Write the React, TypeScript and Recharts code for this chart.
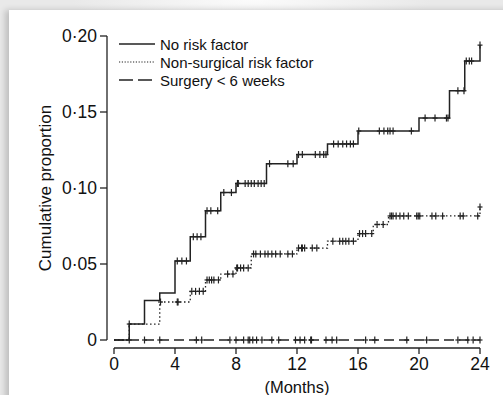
import React from "react";
import { ComposedChart, Legend, Line, Scatter, XAxis, YAxis } from "recharts";

const INK = "#222";
const FONT = "'Liberation Sans', Arial, sans-serif";

const monthTicks = [0, 4, 8, 12, 16, 20, 24];
const proportionTicks = [0, 0.05, 0.1, 0.15, 0.2];

// [month, cumulative proportion] at each event step
const noRiskSteps: [number, number][] = [
  [0, 0], [1, 0.0105], [2, 0.026], [3, 0.031], [4, 0.052], [5, 0.068],
  [6, 0.085], [7, 0.097], [8, 0.103], [10, 0.116], [12, 0.122], [14, 0.129],
  [16, 0.1375], [20, 0.146], [22, 0.164], [23, 0.1835], [24, 0.194],
];
const nonSurgicalSteps: [number, number][] = [
  [0, 0], [1, 0.0105], [3, 0.025], [5, 0.032], [6, 0.0395], [7, 0.0434],
  [8, 0.0474], [9, 0.0566], [12, 0.0605], [14, 0.065], [16, 0.07],
  [17, 0.076], [18, 0.0816], [24, 0.0875],
];
const surgerySteps: [number, number][] = [
  [0, 0], [24, 0],
];

// censoring times (months)
const noRiskCensored = [
  1, 4.15, 4.45, 4.75, 5.2, 5.45, 5.7, 6.1, 6.35, 6.8, 7.2, 7.7,
  8.1, 8.15, 8.6, 8.8, 9.0, 9.2, 9.45, 9.65, 9.85, 10.2, 11.4, 11.75,
  12.1, 12.35, 13.2, 13.5, 13.75, 13.9, 14.4, 14.7, 15.0, 15.25, 15.5, 15.7,
  16.05, 17.4, 17.7, 17.95, 18.1, 18.3, 19.5, 20.4, 21.05, 21.8, 21.9,
  22.55, 22.95, 23.1, 23.3, 23.45, 24,
];
const nonSurgicalCensored = [
  3.05, 4.15, 4.2, 5.1, 5.35, 5.6, 5.85, 6.1, 6.25, 6.4, 6.55, 6.85,
  7.45, 7.8, 8.05, 8.1, 8.3, 8.5, 8.8, 9.15, 9.3, 9.6, 9.9, 10.1, 10.35,
  10.6, 10.9, 11.4, 11.7, 12.1, 12.3, 12.35, 12.5, 13.0, 13.3, 14.35, 14.8,
  15.0, 15.2, 15.4, 15.7, 16.1, 16.3, 16.5, 16.9, 17.25, 17.65, 18.1, 18.2,
  18.3, 18.5, 18.75, 19.0, 19.3, 19.85, 19.95, 20.05, 20.85, 21.1, 21.55,
  22.7, 22.9, 23.85, 24,
];
const surgeryCensored = [
  1, 2, 3, 5.4, 5.75, 7.6, 8.0, 8.5, 8.8, 8.9, 9.1, 9.35, 9.7, 10.35, 10.8,
  11.9, 12.2, 12.5, 12.9, 12.95, 13.9, 14.3, 14.6, 16.5, 17.1, 19.2, 20.5,
  22.55, 23.2, 23.55, 24,
];

const toRows = (steps: [number, number][]) =>
  steps.map(([month, value]) => ({ month, value }));

// place each censored case on its group's step curve
const censorRows = (steps: [number, number][], times: number[]) =>
  times.map((month) => {
    let value = 0;
    for (const [m, v] of steps) if (m <= month) value = v;
    return { month, value };
  });

const legendItems = [
  { name: "No risk factor", dash: undefined, width: 1.4 },
  { name: "Non-surgical risk factor", dash: "1.2 1.6", width: 1.1 },
  { name: "Surgery < 6 weeks", dash: "14 5", width: 1.3 },
];

const CensorMark = (props: any) => {
  const { cx, cy } = props;
  if (cx == null || cy == null) return <g />;
  return (
    <g stroke={INK} strokeWidth={1.2}>
      <line x1={cx} x2={cx} y1={cy - 3.5} y2={cy + 3.5} />
      <line x1={cx - 2.5} x2={cx + 2.5} y1={cy} y2={cy} />
    </g>
  );
};

const renderLegend = () => (
  <div style={{ fontFamily: FONT, fontSize: 15, color: "#111" }}>
    {legendItems.map((item) => (
      <div key={item.name} style={{ display: "flex", alignItems: "center", height: 18 }}>
        <svg width={44} height={18}>
          <line
            x1={3}
            x2={39}
            y1={9}
            y2={9}
            stroke={INK}
            strokeWidth={item.width}
            strokeDasharray={item.dash}
          />
        </svg>
        <span>{item.name}</span>
      </div>
    ))}
  </div>
);

const formatProportion = (v: number) =>
  v === 0 ? "0" : v.toFixed(2).replace(".", "·");

export default function App() {
  return (
    <div
      style={{
        position: "absolute",
        left: 0,
        top: 0,
        width: 503,
        height: 395,
        overflow: "hidden",
        background:
          "radial-gradient(ellipse 180px 30px at 50% 0%, #fbfbfb 0%, #e9e9e9 100%)",
      }}
    >
      <div
        style={{
          position: "absolute",
          left: 9,
          top: 10,
          width: 600,
          height: 500,
          background: "#fff",
          boxShadow: "-4px 0 6px rgba(0,0,0,0.18)",
        }}
      />
      <div style={{ position: "absolute", left: 0, top: 0 }}>
        <ComposedChart
          width={503}
          height={395}
          margin={{ top: 36, right: 23, bottom: 3, left: 34 }}
        >
          <XAxis
            type="number"
            dataKey="month"
            domain={[0, 24]}
            ticks={monthTicks}
            height={52}
            tickSize={6}
            tickMargin={12}
            tick={{ fontSize: 17.5, fill: "#111", fontFamily: FONT }}
            tickLine={{ stroke: INK, strokeWidth: 1.3, transform: "translate(0,8)" }}
            axisLine={{ stroke: INK, strokeWidth: 1.3, transform: "translate(0,8)" }}
            label={{
              content: () => (
                <text
                  x={297}
                  y={387}
                  textAnchor="middle"
                  dominantBaseline="central"
                  fontSize={16.5}
                  fontFamily={FONT}
                  fill="#111"
                >
                  (Months)
                </text>
              ),
            }}
          />
          <YAxis
            type="number"
            domain={[0, 0.2]}
            ticks={proportionTicks}
            tickFormatter={formatProportion}
            width={80}
            tickSize={7}
            tickMargin={10}
            tick={{ fontSize: 17.5, fill: "#111", fontFamily: FONT }}
            tickLine={{ stroke: INK, strokeWidth: 1.3, transform: "translate(-7,0)" }}
            axisLine={{ stroke: INK, strokeWidth: 1.3, transform: "translate(-7,0)" }}
            label={{
              content: () => (
                <text
                  x={45}
                  y={188}
                  transform="rotate(-90 45 188)"
                  textAnchor="middle"
                  dominantBaseline="central"
                  fontSize={17}
                  fontFamily={FONT}
                  fill="#111"
                >
                  Cumulative proportion
                </text>
              ),
            }}
          />
          <Legend
            layout="vertical"
            align="center"
            verticalAlign="middle"
            content={renderLegend}
            wrapperStyle={{ left: 116, top: 35, width: 280 }}
          />
          <Line
            data={toRows(surgerySteps)}
            dataKey="value"
            name="Surgery < 6 weeks"
            type="stepAfter"
            stroke={INK}
            strokeWidth={1.3}
            strokeDasharray="10 5"
            dot={false}
            isAnimationActive={false}
          />
          <Line
            data={toRows(nonSurgicalSteps)}
            dataKey="value"
            name="Non-surgical risk factor"
            type="stepAfter"
            stroke={INK}
            strokeWidth={1.3}
            strokeDasharray="1.5 2.5"
            dot={false}
            isAnimationActive={false}
          />
          <Line
            data={toRows(noRiskSteps)}
            dataKey="value"
            name="No risk factor"
            type="stepAfter"
            stroke={INK}
            strokeWidth={1.5}
            dot={false}
            isAnimationActive={false}
          />
          <Scatter
            data={censorRows(surgerySteps, surgeryCensored)}
            dataKey="value"
            shape={CensorMark}
            legendType="none"
            isAnimationActive={false}
          />
          <Scatter
            data={censorRows(nonSurgicalSteps, nonSurgicalCensored)}
            dataKey="value"
            shape={CensorMark}
            legendType="none"
            isAnimationActive={false}
          />
          <Scatter
            data={censorRows(noRiskSteps, noRiskCensored)}
            dataKey="value"
            shape={CensorMark}
            legendType="none"
            isAnimationActive={false}
          />
        </ComposedChart>
      </div>
    </div>
  );
}
